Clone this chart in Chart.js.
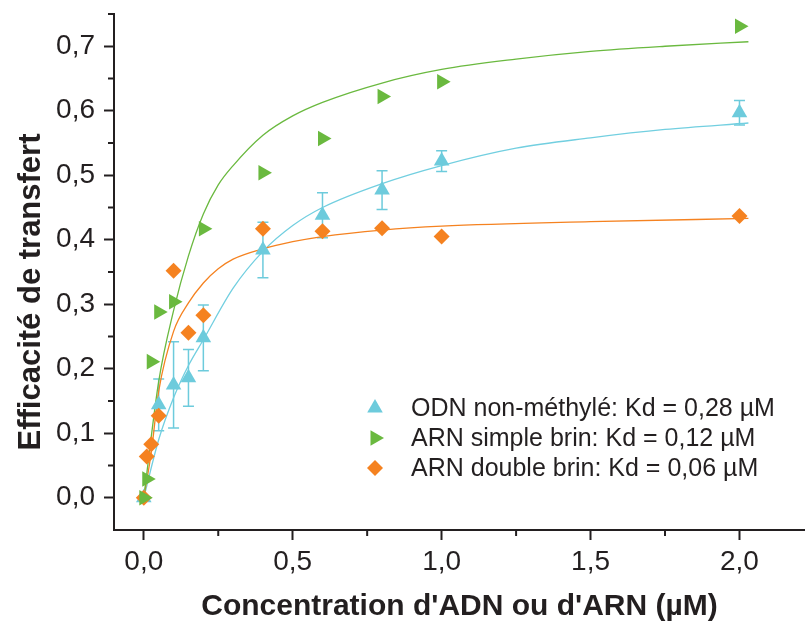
<!DOCTYPE html>
<html lang="fr">
<head>
<meta charset="UTF-8">
<title>Efficacité de transfert</title>
<script src="https://cdn.jsdelivr.net/npm/chart.js"></script>
<style>
  body { margin: 0; background: #fff; }
  .wrap { width: 805px; height: 627px; }
</style>
</head>
<body>
<div class="wrap"><canvas id="chart" width="805" height="627"></canvas></div>
<script>
// mesures (points)
const odnX = [0, 0.05, 0.1, 0.15, 0.2, 0.4, 0.6, 0.8, 1.0, 2.0];
const odnY = [0, 0.144, 0.175, 0.186, 0.248, 0.384, 0.438, 0.477, 0.522, 0.597];
const odnErr = [0, 0.040, 0.067, 0.044, 0.051, 0.043, 0.035, 0.030, 0.016, 0.019];

const ssX = [0, 0.01, 0.025, 0.05, 0.1, 0.2, 0.4, 0.6, 0.8, 1.0, 2.0];
const ssY = [0, 0.029, 0.211, 0.288, 0.304, 0.417, 0.504, 0.557, 0.622, 0.645, 0.731];

const dbX = [0, 0.01, 0.025, 0.05, 0.1, 0.15, 0.2, 0.4, 0.6, 0.8, 1.0, 2.0];
const dbY = [0, 0.064, 0.083, 0.127, 0.352, 0.256, 0.283, 0.417, 0.413, 0.418, 0.405, 0.437];

// courbes d'ajustement
const odnFitX = [0, 0.05, 0.1, 0.15, 0.2, 0.3, 0.4, 0.5, 0.6, 0.8, 1.0, 1.25, 1.5, 1.75, 2.03];
const odnFitY = [0, 0.09, 0.155, 0.205, 0.245, 0.325, 0.382, 0.422, 0.45, 0.487, 0.515, 0.542, 0.558, 0.571, 0.581];

const ssFitX = [0, 0.05, 0.1, 0.15, 0.2, 0.25, 0.3, 0.4, 0.5, 0.6, 0.8, 1.0, 1.25, 1.5, 1.75, 2.03];
const ssFitY = [0, 0.18, 0.29, 0.375, 0.44, 0.485, 0.515, 0.562, 0.592, 0.613, 0.643, 0.664, 0.68, 0.692, 0.7, 0.707];

const dbFitX = [0, 0.025, 0.05, 0.1, 0.15, 0.2, 0.25, 0.3, 0.4, 0.5, 0.6, 0.8, 1.0, 1.5, 2.03];
const dbFitY = [0, 0.07, 0.165, 0.258, 0.302, 0.333, 0.355, 0.37, 0.386, 0.397, 0.405, 0.415, 0.421, 0.428, 0.433];

// axes
const xMajorTicks = [0, 0.5, 1.0, 1.5, 2.0];
const xTickLabels = ['0,0', '0,5', '1,0', '1,5', '2,0'];
const xMinorTicks = [0.25, 0.75, 1.25, 1.75];
const yMajorTicks = [0, 0.1, 0.2, 0.3, 0.4, 0.5, 0.6, 0.7];
const yTickLabels = ['0,0', '0,1', '0,2', '0,3', '0,4', '0,5', '0,6', '0,7'];
const yMinorTicks = [0.05, 0.15, 0.25, 0.35, 0.45, 0.55, 0.65, 0.75];

const yTitle = 'Efficacité de transfert';
const xTitle = "Concentration d'ADN ou d'ARN (µM)";
const legendLabels = [
    'ODN non-méthylé: Kd = 0,28 µM',
    'ARN simple brin: Kd = 0,12 µM',
    'ARN double brin: Kd = 0,06 µM'
];

const ink = '#231f20';
const cyan = '#6dcbdc';
const green = '#6ab93f';
const orange = '#f58220';
const FONT = "'Liberation Sans', Arial, sans-serif";

const pts = (xs, ys) => xs.map((x, i) => ({ x: x, y: ys[i] }));

// petites graduations
const minorTicks = {
    id: 'minorTicks',
    afterDraw(chart) {
        const { ctx, scales: { x, y } } = chart;
        ctx.save();
        ctx.strokeStyle = ink;
        ctx.lineWidth = 2;
        xMinorTicks.forEach(v => {
            const px = x.getPixelForValue(v);
            ctx.beginPath(); ctx.moveTo(px, x.top); ctx.lineTo(px, x.top + 6); ctx.stroke();
        });
        yMinorTicks.forEach(v => {
            const py = y.getPixelForValue(v);
            ctx.beginPath(); ctx.moveTo(y.right, py); ctx.lineTo(y.right - 6, py); ctx.stroke();
        });
        ctx.restore();
    }
};

// barres d'erreur ODN
const errorBars = {
    id: 'errorBars',
    beforeDatasetsDraw(chart) {
        const { ctx, scales: { x, y } } = chart;
        ctx.save();
        ctx.strokeStyle = cyan;
        ctx.lineWidth = 1.5;
        odnX.forEach((v, i) => {
            const e = odnErr[i];
            if (!e) return;
            const px = x.getPixelForValue(v);
            const top = y.getPixelForValue(odnY[i] + e);
            const bot = y.getPixelForValue(odnY[i] - e);
            ctx.beginPath();
            ctx.moveTo(px, top); ctx.lineTo(px, bot);
            ctx.moveTo(px - 5.5, top); ctx.lineTo(px + 5.5, top);
            ctx.moveTo(px - 5.5, bot); ctx.lineTo(px + 5.5, bot);
            ctx.stroke();
        });
        ctx.restore();
    }
};

// titre de l'axe y (décalé vers le bas comme sur la figure)
const yAxisTitle = {
    id: 'yAxisTitle',
    afterDraw(chart) {
        const ctx = chart.ctx;
        ctx.save();
        ctx.translate(31, 292);
        ctx.rotate(-Math.PI / 2);
        ctx.font = 'bold 31px ' + FONT;
        ctx.fillStyle = ink;
        ctx.textAlign = 'center';
        ctx.textBaseline = 'middle';
        ctx.fillText(yTitle, 0, 0);
        ctx.restore();
    }
};

// légende dans la zone du graphique
const insideLegend = {
    id: 'insideLegend',
    afterDraw(chart) {
        const ctx = chart.ctx;
        const order = [2, 0, 1];
        ctx.save();
        ctx.font = '25px ' + FONT;
        ctx.textBaseline = 'middle';
        ctx.textAlign = 'left';
        order.forEach((dsIndex, row) => {
            const ds = chart.data.datasets[dsIndex];
            const cy = 408 + row * 30;
            ctx.fillStyle = ds.backgroundColor;
            ctx.strokeStyle = ds.backgroundColor;
            Chart.helpers.drawPoint(ctx, {
                pointStyle: ds.pointStyle,
                rotation: ds.rotation || 0,
                radius: ds.pointRadius,
                borderWidth: 0
            }, 375, cy);
            ctx.fillStyle = ink;
            ctx.fillText(legendLabels[row], 411, cy + 1);
        });
        ctx.restore();
    }
};

const tickColor = (list) => (c) => (c.tick && list.includes(c.tick.value)) ? ink : 'rgba(0,0,0,0)';

new Chart(document.getElementById('chart'), {
    type: 'scatter',
    data: {
        datasets: [
            { label: legendLabels[1], data: pts(ssX, ssY), pointStyle: 'triangle', rotation: 90,
              pointRadius: 9, backgroundColor: green, borderColor: green, borderWidth: 0 },
            { label: legendLabels[2], data: pts(dbX, dbY), pointStyle: 'rectRot',
              pointRadius: 8, backgroundColor: orange, borderColor: orange, borderWidth: 0 },
            { label: legendLabels[0], data: pts(odnX, odnY), pointStyle: 'triangle',
              pointRadius: 9, backgroundColor: cyan, borderColor: cyan, borderWidth: 0 },
            { label: 'fit simple brin', data: pts(ssFitX, ssFitY), showLine: true, pointRadius: 0,
              borderColor: green, borderWidth: 1.3, cubicInterpolationMode: 'monotone' },
            { label: 'fit double brin', data: pts(dbFitX, dbFitY), showLine: true, pointRadius: 0,
              borderColor: orange, borderWidth: 1.3, cubicInterpolationMode: 'monotone' },
            { label: 'fit ODN', data: pts(odnFitX, odnFitY), showLine: true, pointRadius: 0,
              borderColor: '#72cfe0', borderWidth: 1.3, cubicInterpolationMode: 'monotone' }
        ]
    },
    options: {
        responsive: false,
        animation: false,
        layout: { autoPadding: false, padding: { top: 14, right: 0, left: 0, bottom: 0 } },
        plugins: { legend: { display: false }, tooltip: { enabled: false } },
        scales: {
            x: {
                type: 'linear',
                min: -0.1,
                max: 2.22,
                afterBuildTicks: s => { s.ticks = xMajorTicks.map(v => ({ value: v })); },
                afterFit: s => { s.height = 97; s.paddingLeft = 0; s.paddingRight = 0; },
                ticks: {
                    callback: v => xTickLabels[xMajorTicks.indexOf(v)] || '',
                    font: { family: FONT, size: 28 },
                    color: ink,
                    padding: 5,
                    maxRotation: 0,
                    autoSkip: false
                },
                grid: { drawOnChartArea: false, tickLength: 10, tickWidth: 2, tickColor: tickColor(xMajorTicks) },
                border: { display: true, color: ink, width: 2 },
                title: {
                    display: true,
                    text: xTitle,
                    font: { family: FONT, size: 30, weight: 'bold', lineHeight: 1.2 },
                    color: ink,
                    padding: { top: 0, bottom: 2 }
                }
            },
            y: {
                min: -0.05,
                max: 0.75,
                afterBuildTicks: s => { s.ticks = yMajorTicks.map(v => ({ value: v })); },
                afterFit: s => { s.width = 114; s.paddingTop = 0; s.paddingBottom = 0; },
                ticks: {
                    callback: v => yTickLabels[yMajorTicks.indexOf(v)] || '',
                    font: { family: FONT, size: 28 },
                    color: ink,
                    padding: 9,
                    autoSkip: false
                },
                grid: { drawOnChartArea: false, tickLength: 10, tickWidth: 2, tickColor: tickColor(yMajorTicks) },
                border: { display: true, color: ink, width: 2 },
                title: { display: false }
            }
        }
    },
    plugins: [minorTicks, errorBars, yAxisTitle, insideLegend]
});
</script>
</body>
</html>
